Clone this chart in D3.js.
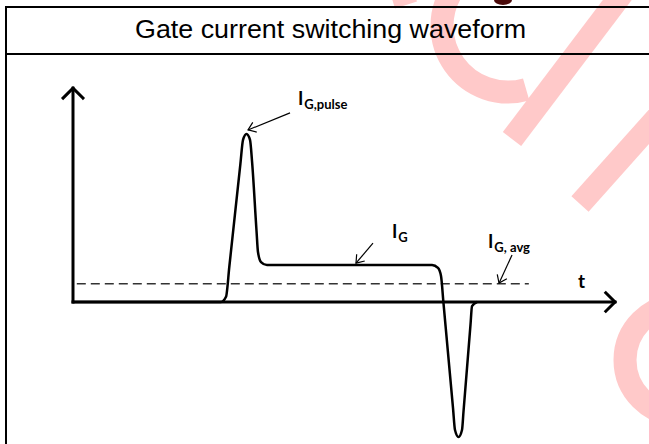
<!DOCTYPE html>
<html>
<head>
<meta charset="utf-8">
<script src="https://cdn.jsdelivr.net/npm/d3@7"></script>
<style>
  body { margin: 0; background: #fff; }
  svg { display: block; }
</style>
</head>
<body>
<div id="chart"></div>
<script>
// waveform samples (time in arbitrary units, gate current normalised to I_G = 1)
const timeVals = [0, 27.31, 28.23, 28.86, 30.89, 31.37, 32.01, 32.66, 33.03, 33.86, 34.13, 34.69, 35.79,
    66.24, 67.34, 67.90, 68.36, 70.11, 70.48, 71.13, 71.77, 72.05, 73.34, 73.62, 74.54];
const gateCurrent = [0, 0, 0.14, 0.98, 3.74, 4.38, 4.54, 4.38, 3.81, 1.92, 1.35, 1.08, 1.0,
    1.0, 0.92, 0.70, -0.04, -2.86, -3.46, -3.65, -3.46, -2.96, -0.61, -0.11, 0];

// average gate current, dashed
const avgLevel = 0.49;
const avgSpan = [0.7, 84.1];

// axis extents
const axisT = [0, 100];
const axisI = [0, 5.78];

// annotations: subscript text, label anchor [t, i], arrow start and end [t, i]
const annSub = ["G,pulse", "G", "G, avg"];
const annLabel = [[41.5, 5.32], [58.86, 1.73], [76.57, 1.46]];
const annFrom = [[40.04, 5.11], [55.35, 1.59], [81.0, 1.27]];
const annTo = [[32.29, 4.65], [52.21, 1.05], [78.6, 0.51]];
const axisLabel = ["t", [93.17, 0.38]];

const title = "Gate current switching waveform";

const width = 649, height = 444;

const svg = d3.select("#chart").append("svg")
    .attr("width", width)
    .attr("height", height);

svg.append("rect").attr("width", width).attr("height", height).attr("fill", "#fff");

// faint watermark behind everything
const wm = svg.append("g").attr("fill", "none").attr("stroke", "#ffc9c9").attr("stroke-width", 23);
const bowl = d3.path();
bowl.arc(508, 26, 66, (74 / 180) * Math.PI, (215 / 180) * Math.PI);
wm.append("path").attr("d", bowl.toString());
wm.append("line").attr("x1", 640).attr("y1", -30).attr("x2", 512).attr("y2", 139);
wm.append("line").attr("x1", 680).attr("y1", 92).attr("x2", 580).attr("y2", 204);
wm.append("circle").attr("cx", 680).attr("cy", 360).attr("r", 55);
wm.append("line").attr("x1", 392).attr("y1", -40).attr("x2", 406).attr("y2", 5);
svg.append("ellipse").attr("cx", 503).attr("cy", 0).attr("rx", 9).attr("ry", 5).attr("fill", "#4a0a0a");

// frame and title box
const frame = svg.append("g").attr("stroke", "#000").attr("stroke-width", 2);
frame.append("line").attr("x1", 6).attr("y1", 7).attr("x2", width).attr("y2", 7);
frame.append("line").attr("x1", 6).attr("y1", 54).attr("x2", width).attr("y2", 54);
frame.append("line").attr("x1", 6).attr("y1", 6).attr("x2", 6).attr("y2", height);

svg.append("text")
    .attr("x", 330.5)
    .attr("y", 38)
    .attr("text-anchor", "middle")
    .attr("font-family", "'Liberation Sans', Arial, sans-serif")
    .attr("font-size", 25)
    .attr("textLength", 391)
    .attr("lengthAdjust", "spacingAndGlyphs")
    .text(title);

// scales
const x = d3.scaleLinear().domain([0, 100]).range([73, 615]);
const y = d3.scaleLinear().domain([-4, 6]).range([450, 80]);

function chevron(x1, y1, x2, y2, size, spread) {
    // open arrow head at (x2, y2) pointing away from (x1, y1)
    const a = Math.atan2(y2 - y1, x2 - x1);
    const p = d3.path();
    p.moveTo(x2 - size * Math.cos(a - spread), y2 - size * Math.sin(a - spread));
    p.lineTo(x2, y2);
    p.lineTo(x2 - size * Math.cos(a + spread), y2 - size * Math.sin(a + spread));
    return p.toString();
}

// axes
const axes = svg.append("g").attr("stroke", "#000").attr("stroke-width", 3).attr("fill", "none")
    .attr("stroke-linecap", "square").attr("stroke-linejoin", "miter");
axes.append("line")
    .attr("x1", x(axisT[0])).attr("y1", y(0)).attr("x2", x(axisT[1])).attr("y2", y(0));
axes.append("path").attr("d", chevron(x(axisT[0]), y(0), x(axisT[1]), y(0), 13, Math.PI / 4));
axes.append("line")
    .attr("x1", x(0)).attr("y1", y(axisI[0])).attr("x2", x(0)).attr("y2", y(axisI[1]));
axes.append("path").attr("d", chevron(x(0), y(axisI[0]), x(0), y(axisI[1]), 14, Math.PI / 4));

// average current
svg.append("line")
    .attr("x1", x(avgSpan[0])).attr("x2", x(avgSpan[1]))
    .attr("y1", y(avgLevel)).attr("y2", y(avgLevel))
    .attr("stroke", "#333")
    .attr("stroke-width", 1.5)
    .attr("stroke-dasharray", "9,5");

// gate current waveform
const points = timeVals.map((t, i) => [t, gateCurrent[i]]);
const line = d3.line()
    .x(d => x(d[0]))
    .y(d => y(d[1]))
    .curve(d3.curveMonotoneX);

svg.append("path")
    .datum(points)
    .attr("d", line)
    .attr("fill", "none")
    .attr("stroke", "#000")
    .attr("stroke-width", 2.5)
    .attr("stroke-linejoin", "round");

// annotations
const ann = svg.append("g");
annSub.forEach((sub, k) => {
    const [fx, fy] = [x(annFrom[k][0]), y(annFrom[k][1])];
    const [tx, ty] = [x(annTo[k][0]), y(annTo[k][1])];
    ann.append("line")
        .attr("x1", fx).attr("y1", fy).attr("x2", tx).attr("y2", ty)
        .attr("stroke", "#000").attr("stroke-width", 1.2);
    ann.append("path")
        .attr("d", chevron(fx, fy, tx, ty, 9, Math.PI / 5))
        .attr("fill", "none").attr("stroke", "#000").attr("stroke-width", 1.2);

    const txt = ann.append("text")
        .attr("x", x(annLabel[k][0]))
        .attr("y", y(annLabel[k][1]))
        .attr("font-family", "Lato, 'Open Sans', sans-serif")
        .attr("font-weight", 700);
    txt.append("tspan").attr("font-size", 18).text("I");
    txt.append("tspan").attr("font-size", 13).attr("dy", 4).attr("dx", 1).text(sub);
});

svg.append("text")
    .attr("x", x(axisLabel[1][0]))
    .attr("y", y(axisLabel[1][1]))
    .attr("font-family", "Lato, 'Open Sans', sans-serif")
    .attr("font-weight", 700)
    .attr("font-size", 19)
    .text(axisLabel[0]);
</script>
</body>
</html>
